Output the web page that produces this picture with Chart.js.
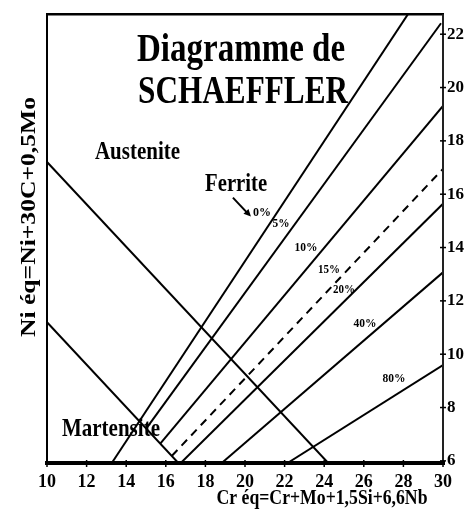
<!DOCTYPE html>
<html><head><meta charset="utf-8">
<script src="https://cdn.jsdelivr.net/npm/chart.js@4.4.0/dist/chart.umd.min.js"></script>
<style>html,body{margin:0;padding:0;background:#fff;overflow:hidden}canvas{display:block}</style>
</head><body>
<canvas id="c" width="466" height="509"></canvas>
<script>
// ---- Data: Cr eq (x) / Ni eq (y) end points of the diagram's lines ----
const xTicks = [10, 12, 14, 16, 18, 20, 22, 24, 26, 28, 30];
const yTicks = [6, 8, 10, 12, 14, 16, 18, 20, 22];
const ferrite0  = [[13.28, 5.93], [28.23, 22.75]];
const ferrite5  = [[15.0, 7.20], [29.9, 22.41]];
const ferrite10 = [[15.71, 6.64], [30.0, 19.31]];
const ferrite15 = [[16.31, 6.19], [30.0, 16.95]];
const ferrite20 = [[16.77, 5.93], [30.0, 15.64]];
const ferrite40 = [[18.84, 5.93], [30.0, 13.07]];
const ferrite80 = [[22.17, 5.93], [30.0, 9.59]];
const austeniteLine  = [[10.0, 17.21], [24.19, 5.93]];
const martensiteLine = [[10.0, 11.20], [16.62, 5.93]];

const pctLabels = ['0%', '5%', '10%', '15%', '20%', '40%', '80%'];
const pctLabelCr = [20.86, 21.82, 23.08, 24.24, 25.0, 26.06, 27.53];
const pctLabelNi = [15.35, 14.93, 14.04, 13.21, 12.47, 11.20, 9.14];

const xTitle = 'Cr éq=Cr+Mo+1,5Si+6,6Nb';
const yTitle = 'Ni éq=Ni+30C+0,5Mo';

const seriesList = [
  {pts: ferrite0, dash: []}, {pts: ferrite5, dash: []}, {pts: ferrite10, dash: []},
  {pts: ferrite15, dash: [8, 6]}, {pts: ferrite20, dash: []}, {pts: ferrite40, dash: []},
  {pts: ferrite80, dash: []}, {pts: austeniteLine, dash: []}, {pts: martensiteLine, dash: []}
];

const FONT = '"Liberation Serif", "Times New Roman", serif';
function txt(ctx, s, cx, base, size, w, rot) {
  ctx.save();
  ctx.font = 'bold ' + size + 'px ' + FONT;
  const m = ctx.measureText(s).width;
  ctx.translate(cx, base);
  if (rot) ctx.rotate(rot);
  ctx.scale(w / m, 1);
  ctx.textAlign = 'center';
  ctx.textBaseline = 'alphabetic';
  ctx.fillStyle = '#000';
  ctx.fillText(s, 0, 0);
  ctx.restore();
}

const decor = {
  id: 'decor',
  afterDatasetsDraw(chart) {
    const ctx = chart.ctx, a = chart.chartArea, X = chart.scales.x, Y = chart.scales.y;
    const px = v => X.getPixelForValue(v), py = v => Y.getPixelForValue(v);
    ctx.save();
    ctx.strokeStyle = '#000';
    ctx.lineCap = 'butt';
    // frame
    ctx.lineWidth = 2.5;
    ctx.beginPath(); ctx.moveTo(a.left - 1, a.top); ctx.lineTo(a.right + 1, a.top); ctx.stroke();
    ctx.lineWidth = 2;
    ctx.beginPath(); ctx.moveTo(a.left, a.top); ctx.lineTo(a.left, a.bottom); ctx.stroke();
    ctx.strokeStyle = '#222';
    ctx.beginPath(); ctx.moveTo(a.right, a.top); ctx.lineTo(a.right, a.bottom); ctx.stroke();
    ctx.strokeStyle = '#000';
    ctx.lineWidth = 4;
    ctx.beginPath(); ctx.moveTo(a.left - 2, a.bottom); ctx.lineTo(a.right + 2, a.bottom); ctx.stroke();
    // tick marks
    ctx.lineWidth = 1.5;
    xTicks.forEach(v => { const p = px(v); ctx.beginPath(); ctx.moveTo(p, a.bottom - 3); ctx.lineTo(p, a.bottom + 4); ctx.stroke(); });
    yTicks.forEach(v => { const p = py(v); ctx.beginPath(); ctx.moveTo(a.right - 3, p); ctx.lineTo(a.right + 3, p); ctx.stroke(); });
    // titles
    txt(ctx, 'Diagramme de', px(19.80), py(20.99), 40, 208);
    txt(ctx, 'SCHAEFFLER', px(19.90), py(19.42), 41, 210);
    txt(ctx, 'Austenite', px(14.57), py(17.33), 25, 85);
    txt(ctx, 'Ferrite', px(19.55), py(16.13), 26, 62);
    txt(ctx, 'Martensite', px(13.23), py(6.93), 26, 98);
    // percentage labels
    const pw = [18, 17, 23, 22, 22, 23, 23];
    pctLabels.forEach((s, i) => txt(ctx, s, px(pctLabelCr[i]), py(pctLabelNi[i]) + 4.5, 13, pw[i]));
    // arrow
    const x0 = px(19.39), y0 = py(15.87), x1 = px(20.30), y1 = py(15.16);
    ctx.lineWidth = 2;
    ctx.beginPath(); ctx.moveTo(x0, y0); ctx.lineTo(x1 - 3, y1 - 3); ctx.stroke();
    const ang = Math.atan2(y1 - y0, x1 - x0);
    ctx.fillStyle = '#000';
    ctx.beginPath();
    ctx.moveTo(x1, y1);
    ctx.lineTo(x1 - 8 * Math.cos(ang - 0.45), y1 - 8 * Math.sin(ang - 0.45));
    ctx.lineTo(x1 - 8 * Math.cos(ang + 0.45), y1 - 8 * Math.sin(ang + 0.45));
    ctx.closePath(); ctx.fill();
    // axis titles
    txt(ctx, xTitle, 322, 504, 22, 211);
    txt(ctx, yTitle, 35, 217, 21, 240, -Math.PI / 2);
    ctx.restore();
  }
};

new Chart(document.getElementById('c'), {
  type: 'scatter',
  data: {
    datasets: seriesList.map(s => ({
      data: s.pts.map(p => ({x: p[0], y: p[1]})),
      showLine: true, borderColor: '#000', borderWidth: 2, borderDash: s.dash,
      pointRadius: 0, fill: false, tension: 0
    }))
  },
  options: {
    responsive: false, animation: false,
    layout: {padding: {left: 47, top: 13, right: 0, bottom: 0}},
    plugins: {legend: {display: false}, tooltip: {enabled: false}},
    scales: {
      x: {
        type: 'linear', min: 10, max: 30, position: 'bottom',
        grid: {display: false, drawTicks: false}, border: {display: false},
        ticks: {font: {family: FONT, weight: 'bold', size: 18}, color: '#000', padding: 9, autoSkip: false, maxRotation: 0},
        afterBuildTicks: s => { s.ticks = xTicks.map(v => ({value: v})); },
        afterFit: s => { s.height = 46; }
      },
      y: {
        type: 'linear', min: 5.92, max: 22.75, position: 'right',
        grid: {display: false, drawTicks: false}, border: {display: false},
        ticks: {font: {family: FONT, weight: 'bold', size: 17}, color: '#000', padding: 4, autoSkip: false},
        afterBuildTicks: s => { s.ticks = yTicks.map(v => ({value: v})); },
        afterFit: s => { s.width = 23; }
      }
    }
  },
  plugins: [decor]
});
</script>
</body></html>
